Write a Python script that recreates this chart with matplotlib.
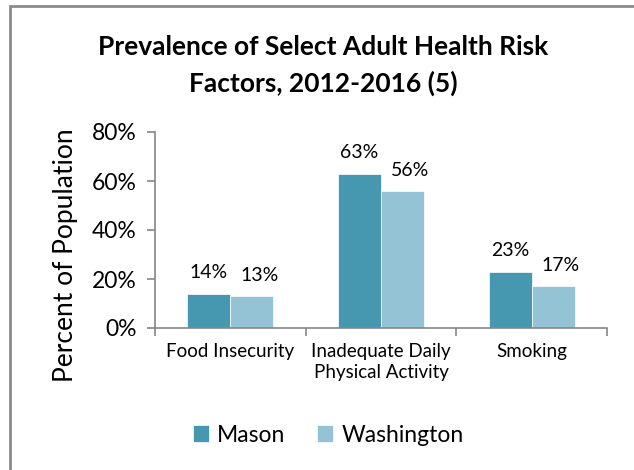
import matplotlib
matplotlib.use("Agg")
import matplotlib.pyplot as plt
from matplotlib.patches import Rectangle
from matplotlib.ticker import PercentFormatter
import numpy as np

plt.rcParams['font.family'] = ['Lato', 'DejaVu Sans']

# data
categories = ['Food Insecurity', 'Inadequate Daily\nPhysical Activity', 'Smoking']
mason = [0.14, 0.63, 0.23]
washington = [0.13, 0.56, 0.17]
series_names = ['Mason', 'Washington']
colors = ['#4598B0', '#94C3D5']
yticks = [0, 0.2, 0.4, 0.6, 0.8]

fig = plt.figure(figsize=(6.34, 4.70), dpi=100)
ax = fig.add_axes([155 / 634, 1 - 328 / 470, (607 - 155) / 634, (328 - 132) / 470])

# gray chart frame (cut off on right and bottom like the original)
fig.patches.append(Rectangle((10 / 634, -0.1), 1.2, 1.1 - 6 / 470,
                             transform=fig.transFigure, fill=False,
                             edgecolor='#8c8c8c', linewidth=2, zorder=0))

x = np.arange(len(categories))
w = 0.285
b1 = ax.bar(x - w / 2, mason, w, color=colors[0], label=series_names[0],
            edgecolor='white', linewidth=0.5)
b2 = ax.bar(x + w / 2, washington, w, color=colors[1], label=series_names[1],
            edgecolor='white', linewidth=0.5)

# value labels (second series sits a bit to the right, as in the original)
for bars, vals, dx in [(b1, mason, 0.0), (b2, washington, 0.05)]:
    for rect, v in zip(bars, vals):
        ax.text(rect.get_x() + rect.get_width() / 2 + dx, v + 0.05, f'{v:.0%}',
                ha='center', va='bottom', fontsize=14, color='black')

ax.set_xlim(-0.5, len(categories) - 0.5)
ax.set_ylim(0, 0.8)
ax.set_yticks(yticks)
ax.yaxis.set_major_formatter(PercentFormatter(1.0, decimals=0))
ax.set_xticks(x)
ax.set_xticklabels(categories, fontsize=13.5, linespacing=1.25)
ax.set_xticks(np.arange(len(categories) + 1) - 0.5, minor=True)
ax.tick_params(axis='x', which='major', length=0, pad=11)
ax.tick_params(axis='x', which='minor', length=6, color='#868686', width=1.2)
ax.tick_params(axis='y', length=6, color='#868686', width=1.2, labelsize=16.5, pad=7)

for s in ['top', 'right']:
    ax.spines[s].set_visible(False)
for s in ['left', 'bottom']:
    ax.spines[s].set_color('#868686')
    ax.spines[s].set_linewidth(1.2)

ax.set_ylabel('Percent of Population', fontsize=19, va='center')
ax.yaxis.set_label_coords((65 - 155) / 452, (328 - 255) / 196)

fig.text(323 / 634, 1 - 47 / 470, 'Prevalence of Select Adult Health Risk',
         ha='center', va='center', fontsize=19, fontweight='bold')
fig.text(323 / 634, 1 - 83 / 470, 'Factors, 2012-2016 (5)',
         ha='center', va='center', fontsize=19, fontweight='bold')

fig.legend(handles=[b1, b2], labels=series_names, loc='center',
           bbox_to_anchor=(328 / 634, 1 - 435 / 470), ncol=2, frameon=False,
           fontsize=16.5, handlelength=0.7, handleheight=0.7,
           handletextpad=0.35, columnspacing=1.4)

fig.savefig('out.png', dpi=100)
